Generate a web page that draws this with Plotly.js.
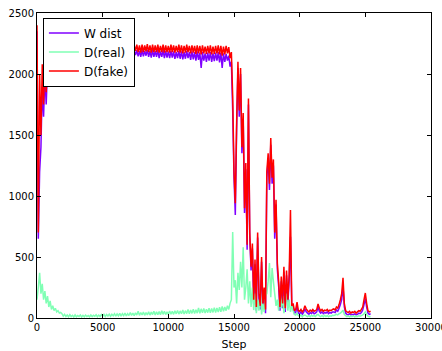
<!DOCTYPE html>
<html>
<head>
<meta charset="utf-8">
<script src="https://cdn.plot.ly/plotly-3.0.1.min.js"></script>
<style>html,body{margin:0;padding:0;background:#fff;}#chart{width:442px;height:351px;}</style>
</head>
<body>
<div id="chart"></div>
<script>
// Training step spacing between logged samples
const stepSize = 100;

const dFake = [
2400,700,2000,1500,2080,1750,2100,1850,2120,2180,
2235,2185,2240,2180,2230,2175,2245,2190,2235,2180,
2240,2185,2230,2190,2245,2180,2235,2185,2240,2190,
2235,2180,2245,2185,2230,2190,2240,2180,2235,2185,
2245,2190,2240,2180,2235,2185,2250,2190,2240,2180,
2235,2185,2245,2190,2240,2180,2235,2185,2245,2190,
2240,2180,2235,2185,2245,2190,2240,2180,2235,2185,
2240,2180,2245,2185,2235,2190,2240,2180,2235,2175,
2240,2180,2235,2185,2245,2180,2235,2175,2240,2180,
2235,2180,2240,2175,2230,2180,2240,2175,2235,2180,
2230,2175,2240,2180,2235,2175,2230,2180,2240,2175,
2235,2170,2230,2175,2240,2180,2230,2170,2235,2175,
2230,2165,2235,2170,2230,2160,2235,2170,2225,2165,
2230,2170,2235,2160,2225,2165,2230,2170,2235,2160,
2230,2150,2225,2160,2230,2170,2220,2130,2180,1820,
1200,940,1600,2100,1700,2050,1400,1680,900,1270,
600,1800,700,420,610,150,480,90,700,200,
100,500,120,250,70,1200,1350,1100,1475,1150,
1300,700,970,450,300,90,340,120,420,80,
390,150,350,885,100,120,60,70,130,60,
55,70,50,65,100,75,60,50,65,55,
70,55,60,70,115,80,60,70,55,65,
60,70,55,65,60,70,75,65,90,80,
110,150,200,330,120,60,50,45,55,40,
50,45,55,40,50,60,55,70,90,150,
205,120,60,50,55
];

// W dist values
const wDist = [
2350,650,1200,1400,1900,1650,2000,1750,2050,2150,
2200,2160,2205,2155,2195,2160,2210,2165,2200,2155,
2205,2160,2195,2165,2210,2155,2200,2160,2205,2165,
2200,2155,2210,2160,2195,2165,2205,2155,2200,2160,
2210,2165,2205,2150,2200,2160,2215,2160,2200,2150,
2200,2155,2205,2160,2200,2150,2195,2155,2205,2160,
2200,2150,2195,2155,2205,2160,2200,2150,2195,2150,
2195,2145,2200,2150,2190,2155,2195,2145,2190,2140,
2195,2145,2190,2150,2200,2140,2190,2135,2195,2140,
2190,2140,2195,2130,2185,2140,2195,2130,2190,2135,
2185,2130,2190,2135,2185,2125,2180,2130,2190,2125,
2185,2120,2180,2125,2190,2130,2180,2115,2185,2120,
2180,2110,2185,2115,2175,2050,2180,2110,2170,2100,
2175,2110,2180,2100,2170,2105,2175,2110,2180,2095,
2175,2050,2170,2100,2165,2110,2150,2060,2100,1700,
1150,845,1550,2050,1650,2000,1350,1630,860,1220,
560,1750,660,390,570,110,440,60,660,160,
70,460,80,210,40,1150,1300,1050,1420,1100,
1250,650,930,400,260,60,300,80,380,50,
350,110,310,665,80,90,40,45,100,40,
35,50,30,45,75,50,40,30,45,35,
50,35,40,50,90,55,40,50,35,45,
40,50,35,45,40,50,50,45,65,55,
80,110,150,260,90,40,30,25,35,25,
30,25,35,25,30,40,35,45,65,110,
160,90,40,30,35
];

// D(real) values
const dReal = [
150,250,370,200,280,150,220,120,180,90,
140,70,100,60,80,50,60,40,45,35,
15,30,12,25,10,28,12,22,8,25,
10,20,12,25,8,22,10,24,12,20,
10,25,12,22,14,26,10,24,12,28,
15,30,12,28,16,32,14,30,18,35,
15,33,18,38,16,35,20,40,18,36,
20,45,22,40,20,42,24,55,22,45,
25,48,22,45,26,50,24,48,28,55,
25,50,28,52,26,60,30,55,28,50,
30,58,32,55,30,60,34,62,32,58,
35,65,32,60,36,70,34,65,38,72,
36,68,40,82,38,75,42,78,40,72,
44,80,42,78,46,85,44,82,48,88,
50,95,55,90,60,100,70,120,150,705,
250,310,120,370,230,460,250,580,150,250,
400,120,300,90,250,65,200,40,150,60,
230,30,120,50,180,200,300,450,170,410,
300,200,100,150,60,200,80,180,40,120,
200,60,150,50,100,60,30,25,40,20,
15,25,10,22,25,18,12,20,10,22,
15,20,12,25,30,18,12,20,10,22,
12,20,10,18,15,22,20,25,30,25,
35,40,50,65,30,20,12,18,10,15,
12,18,10,15,12,18,15,20,25,35,
50,30,15,10,12
];

const xTicks = [0, 5000, 10000, 15000, 20000, 25000, 30000];
const yTicks = [0, 500, 1000, 1500, 2000, 2500];

function stepsFor(arr) { return arr.map((_, i) => i * stepSize); }

const traces = [
  {x: stepsFor(wDist), y: wDist, name: 'W dist', type: 'scatter', mode: 'lines',
   line: {color: '#8000ff', width: 1.5, simplify: false}},
  {x: stepsFor(dReal), y: dReal, name: 'D(real)', type: 'scatter', mode: 'lines',
   line: {color: '#80ffb4', width: 1.5, simplify: false}},
  {x: stepsFor(dFake), y: dFake, name: 'D(fake)', type: 'scatter', mode: 'lines',
   line: {color: '#ff0000', width: 1.5, simplify: false}}
];

const axisCommon = {
  showgrid: false, zeroline: false, showline: true, linecolor: '#000', linewidth: 1,
  mirror: 'allticks', ticks: 'inside', ticklen: 4, tickcolor: '#000', tickwidth: 1,
  ticklabeloverflow: 'allow',
  tickfont: {family: 'DejaVu Sans', size: 10, color: '#000'}
};

const layout = {
  width: 442, height: 351,
  margin: {l: 37, r: 11, t: 13, b: 33, pad: 0},
  paper_bgcolor: '#fff', plot_bgcolor: '#fff',
  showlegend: true,
  legend: {x: 0.015, y: 0.985, xanchor: 'left', yanchor: 'top',
    bgcolor: '#fff', bordercolor: '#000', borderwidth: 1, tracegroupgap: 0,
    font: {family: 'DejaVu Sans', size: 12, color: '#000'}},
  xaxis: Object.assign({}, axisCommon, {range: [0, 30000], tickvals: xTicks,
    ticktext: xTicks.map(String),
    title: {text: 'Step', font: {family: 'DejaVu Sans', size: 11, color: '#000'}, standoff: 8}}),
  yaxis: Object.assign({}, axisCommon, {range: [0, 2500], tickvals: yTicks,
    ticktext: yTicks.map(String)})
};

Plotly.newPlot('chart', traces, layout, {staticPlot: true, displayModeBar: false});
</script>
</body>
</html>
